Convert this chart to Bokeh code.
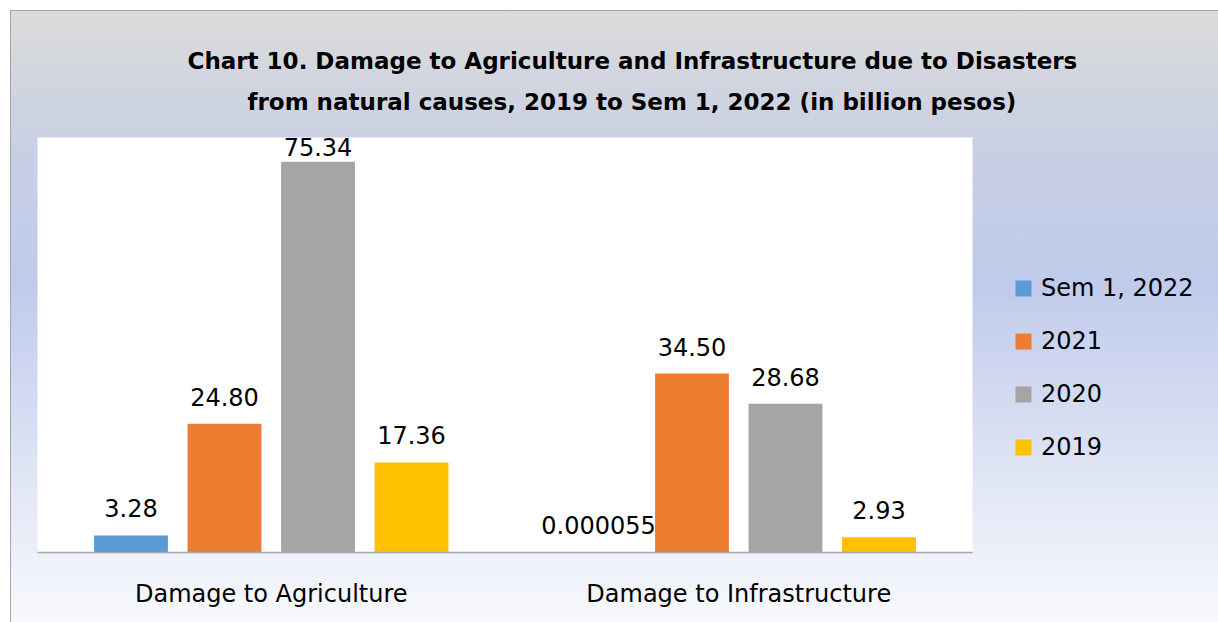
from bokeh.plotting import figure
from bokeh.models import ColumnDataSource, Legend, LegendItem, LabelSet, Title, FactorRange, Range1d
from bokeh.transform import dodge
from bokeh.embed import file_html
from bokeh.resources import INLINE
from bokeh.core.properties import value

# ---- data ----
categories = ["Damage to Agriculture", "Damage to Infrastructure"]
series_names = ["Sem 1, 2022", "2021", "2020", "2019"]
sem1_2022 = [3.28, 0.000055]
y2021 = [24.80, 34.50]
y2020 = [75.34, 28.68]
y2019 = [17.36, 2.93]
title_lines = [
    "Chart 10. Damage to Agriculture and Infrastructure due to Disasters",
    "from natural causes, 2019 to Sem 1, 2022 (in billion pesos)",
]

# ---- style ----
colors = ["#5b9bd5", "#ed7d31", "#a5a5a5", "#ffc000"]
FONT = "DejaVu Sans"
Y_MAX = 80
FW, FH = 935, 415
ML, MR, MT, MB = 26, 246, 126, 70
px_per_unit = FH / Y_MAX

p = figure(
    x_range=FactorRange(*categories, range_padding=0),
    y_range=Range1d(0, Y_MAX),
    frame_width=FW, frame_height=FH,
    min_border_left=ML, min_border_right=MR, min_border_top=MT, min_border_bottom=MB,
    output_backend="svg", toolbar_location=None, title=None,
    background_fill_color="white", border_fill_color=None,
    outline_line_color=None,
    styles={
        "background": "linear-gradient(180deg, #dbdbdb 0%, #c9d0e4 22%, #c0cbeb 45%, #dfe4f5 75%, #f8f9fd 100%)",
        "margin": "10px 0 0 10px",
        "border-left": "1px solid #a6a6a6",
        "border-top": "1px solid #a6a6a6",
    },
)

offsets = [-0.3, -0.1, 0.1, 0.3]
all_series = [sem1_2022, y2021, y2020, y2019]
items = []
for name, vals, col, off in zip(series_names, all_series, colors, offsets):
    texts = [f"{v:.2f}" if v >= 0.01 else f"{v:.6f}" for v in vals]
    yoffs = [min(27, (Y_MAX - v) * px_per_unit - 9) for v in vals]
    src = ColumnDataSource(dict(cat=categories, val=vals, txt=texts, yoff=yoffs))
    r = p.vbar(x=dodge("cat", off, range=p.x_range), top="val", width=0.158,
               source=src, fill_color=col, line_color=None)
    items.append(LegendItem(label=name, renderers=[r]))
    p.add_layout(LabelSet(x=dodge("cat", off, range=p.x_range), y="val", text="txt",
                          y_offset="yoff", source=src, text_align="center",
                          text_baseline="middle", text_font=value(FONT),
                          text_font_size="24px", text_color="black"))

# title lines: the last added is the outermost
title_offsets = [150, 210]
title_standoffs = [-18, 45]
for line, off, so in reversed(list(zip(title_lines, title_offsets, title_standoffs))):
    p.add_layout(Title(text=line, align="left", offset=off, standoff=so,
                       text_font=FONT, text_font_style="bold", text_font_size="23px",
                       text_color="black"), "above")

legend = Legend(items=items, location=(41, 91), orientation="vertical",
                glyph_width=20, glyph_height=20, label_standoff=8,
                label_text_font=FONT, label_text_font_size="24px",
                label_text_color="black", label_height=22,
                spacing=25, padding=0, margin=0,
                background_fill_alpha=0, border_line_alpha=0)
p.add_layout(legend, "right")

p.xaxis.axis_line_color = "#a6a6a6"
p.xaxis.axis_line_width = 1.5
p.xaxis.major_tick_line_color = None
p.xaxis.minor_tick_line_color = None
p.xaxis.major_label_text_font = FONT
p.xaxis.major_label_text_font_size = "24px"
p.xaxis.major_label_text_color = "black"
p.xaxis.major_label_standoff = 21
p.yaxis.visible = False
p.xgrid.grid_line_color = None
p.ygrid.grid_line_color = None

open("out.html", "w").write(file_html(p, INLINE))
